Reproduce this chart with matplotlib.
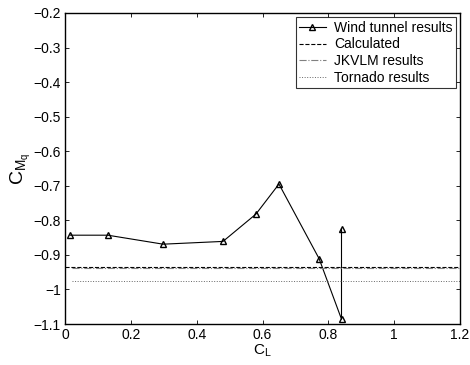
import matplotlib
matplotlib.use('Agg')
import matplotlib.pyplot as plt
from matplotlib.ticker import FuncFormatter

plt.rcParams['font.family'] = ['Liberation Sans', 'DejaVu Sans']
plt.rcParams['mathtext.fontset'] = 'custom'
plt.rcParams['mathtext.rm'] = 'Liberation Sans'
plt.rcParams['mathtext.it'] = 'Liberation Sans'

# Datos
cl_tunel = [0.016, 0.13, 0.298, 0.48, 0.58, 0.65, 0.772, 0.84, 0.84]
cmq_tunel = [-0.843, -0.843, -0.869, -0.861, -0.782, -0.695, -0.911, -1.086, -0.824]

cl_calc = [0.0, 1.2]
cmq_calc = [-0.936, -0.936]
cl_jkvlm = [0.02, 1.2]
cmq_jkvlm = [-0.939, -0.939]
cl_tornado = [0.02, 1.2]
cmq_tornado = [-0.975, -0.975]

fig = plt.figure(figsize=(4.7, 3.65), dpi=100)
ax = fig.add_axes([65/470, 1-324/365, 395/470, 311/365])

ax.plot(cl_tunel, cmq_tunel, 'k-', marker='^', mfc='none', mec='k', ms=5, lw=0.8,
        label='Wind tunnel results')
ax.plot(cl_calc, cmq_calc, 'k--', lw=0.8, label='Calculated')
ax.plot(cl_jkvlm, cmq_jkvlm, '-.', color='0.5', lw=0.8, label='JKVLM results')
ax.plot(cl_tornado, cmq_tornado, ':', color='0.4', lw=0.7, label='Tornado results')

ax.set_xlim(0, 1.2)
ax.set_ylim(-1.1, -0.2)
ax.set_xticks([0, 0.2, 0.4, 0.6, 0.8, 1.0, 1.2])
ax.set_yticks([-1.1, -1.0, -0.9, -0.8, -0.7, -0.6, -0.5, -0.4, -0.3, -0.2])
fmt = FuncFormatter(lambda v, p: ('%g' % round(v, 2)).replace('-', '\u2212'))
ax.xaxis.set_major_formatter(fmt)
ax.yaxis.set_major_formatter(fmt)
ax.tick_params(direction='in', top=True, right=True, labelsize=10, length=3, width=0.6, pad=3)
for s in ax.spines.values():
    s.set_linewidth(1.0)

ax.set_xlabel(r'C$_\mathregular{L}$', fontsize=11, labelpad=0)
ax.set_ylabel(r'C$_{\mathregular{M}_\mathregular{q}}$', fontsize=14, labelpad=0)

leg = ax.legend(loc='upper right', fontsize=10, frameon=True, fancybox=False,
                edgecolor='k', borderpad=0.25, labelspacing=0.2, handlelength=1.9,
                handletextpad=0.6, borderaxespad=0.3)
leg.get_frame().set_linewidth(0.8)

fig.savefig('out.png', dpi=100)
